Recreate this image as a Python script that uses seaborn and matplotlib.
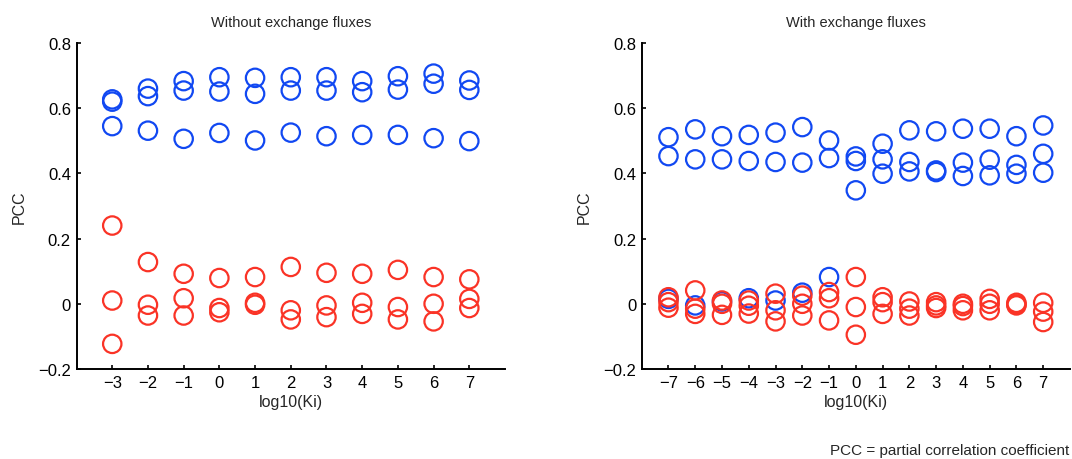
import numpy as np
import pandas as pd
import matplotlib
matplotlib.use("Agg")
import matplotlib.pyplot as plt
import seaborn as sns

# ---------------- data ----------------
ki_left = [-3, -2, -1, 0, 1, 2, 3, 4, 5, 6, 7]
left_blue_1 = [0.627, 0.660, 0.683, 0.695, 0.693, 0.695, 0.695, 0.683, 0.698, 0.706, 0.685]
left_blue_2 = [0.620, 0.637, 0.654, 0.651, 0.644, 0.654, 0.654, 0.649, 0.657, 0.675, 0.656]
left_blue_3 = [0.545, 0.531, 0.506, 0.524, 0.501, 0.525, 0.514, 0.518, 0.518, 0.508, 0.499]
left_red_1 = [0.240, 0.128, 0.092, 0.079, 0.082, 0.113, 0.095, 0.092, 0.104, 0.082, 0.075]
left_red_2 = [0.010, -0.003, 0.017, -0.013, 0.003, -0.020, -0.005, 0.003, -0.010, 0.000, 0.015]
left_red_3 = [-0.123, -0.036, -0.036, -0.026, -0.003, -0.048, -0.041, -0.031, -0.048, -0.054, -0.013]

ki_right = [-7, -6, -5, -4, -3, -2, -1, 0, 1, 2, 3, 4, 5, 6, 7]
right_blue_1 = [0.511, 0.535, 0.514, 0.518, 0.525, 0.542, 0.501, 0.452, 0.491, 0.532, 0.529, 0.537, 0.537, 0.514, 0.547]
right_blue_2 = [0.453, 0.443, 0.443, 0.438, 0.435, 0.433, 0.447, 0.438, 0.443, 0.435, 0.409, 0.433, 0.442, 0.426, 0.460]
right_blue_3 = [0.015, -0.005, 0.007, 0.017, 0.010, 0.034, 0.082, 0.348, 0.399, 0.406, 0.404, 0.392, 0.394, 0.399, 0.402]
right_red_1 = [0.020, 0.041, 0.010, 0.010, 0.031, 0.025, 0.036, 0.082, 0.020, 0.007, 0.005, 0.000, 0.015, 0.003, 0.003]
right_red_2 = [0.005, -0.015, 0.000, -0.006, -0.020, 0.000, 0.017, -0.010, 0.005, -0.015, -0.005, -0.007, 0.000, -0.002, -0.024]
right_red_3 = [-0.012, -0.031, -0.034, -0.030, -0.054, -0.036, -0.051, -0.095, -0.031, -0.036, -0.013, -0.020, -0.020, -0.005, -0.056]

titles = ["Without exchange fluxes", "With exchange fluxes"]
y_ticks = [-0.2, 0, 0.2, 0.4, 0.6, 0.8]
y_ticklabels = ["\u22120.2", "0", "0.2", "0.4", "0.6", "0.8"]
footnote = "PCC = partial correlation coefficient"

BLUE = "#1148f2"
RED = "#fa3326"


def long_frame(ki, series, group):
    rows = []
    for s in series:
        for k, v in zip(ki, s):
            rows.append({"ki": k, "pcc": v, "group": group})
    return pd.DataFrame(rows)


panels = [
    (ki_left, [left_blue_1, left_blue_2, left_blue_3], [left_red_1, left_red_2, left_red_3], (-4, 8)),
    (ki_right, [right_blue_1, right_blue_2, right_blue_3], [right_red_1, right_red_2, right_red_3], (-8, 8)),
]

sns.set_theme(style="ticks")
plt.rcParams["font.family"] = ["Liberation Sans", "DejaVu Sans"]

fig = plt.figure(figsize=(10.72, 4.6), dpi=100)
ax_rects = [
    [0.0714, 0.1957, 0.3997, 0.7087],
    [0.5986, 0.1957, 0.3995, 0.7087],
]

for (ki, blues, reds, xlim), rect, title in zip(panels, ax_rects, titles):
    ax = fig.add_axes(rect)
    for series, group, color in [(blues, "blue", BLUE), (reds, "red", RED)]:
        df = long_frame(ki, series, group)
        sns.scatterplot(data=df, x="ki", y="pcc", color=color, marker="o",
                        s=175, linewidth=1.6, ax=ax, legend=False)
        coll = ax.collections[-1]
        coll.set_facecolors("none")
        coll.set_edgecolors(color)
    ax.set_xlim(*xlim)
    ax.set_ylim(-0.2, 0.8)
    ax.set_xticks(ki)
    ax.set_xticklabels([str(k).replace("-", "\u2212") for k in ki])
    ax.set_yticks(y_ticks)
    ax.set_yticklabels(y_ticklabels)
    ax.tick_params(direction="in", length=3, width=1.2, labelsize=12,
                   color="black", labelcolor="black", pad=4)
    sns.despine(ax=ax)
    for sp in ["left", "bottom"]:
        ax.spines[sp].set_linewidth(1.4)
        ax.spines[sp].set_color("black")
    ax.set_xlabel("log10(Ki)", fontsize=11.5, labelpad=3)
    ax.set_ylabel("PCC", fontsize=11.5, labelpad=8)
    ax.set_title(title, fontsize=10.5, pad=12)

fig.text(0.997, 0.005, footnote, ha="right", va="bottom", fontsize=11)

fig.savefig("out.png", dpi=100)
